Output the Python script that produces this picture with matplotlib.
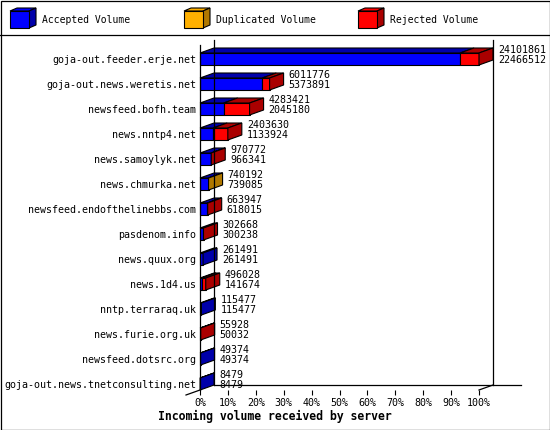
import matplotlib
matplotlib.use('Agg')
import matplotlib.pyplot as plt
from matplotlib.patches import Polygon, Rectangle
import numpy as np

servers = ['goja-out.feeder.erje.net', 'goja-out.news.weretis.net', 'newsfeed.bofh.team',
           'news.nntp4.net', 'news.samoylyk.net', 'news.chmurka.net',
           'newsfeed.endofthelinebbs.com', 'pasdenom.info', 'news.quux.org', 'news.1d4.us',
           'nntp.terraraq.uk', 'news.furie.org.uk', 'newsfeed.dotsrc.org',
           'goja-out.news.tnetconsulting.net']
offered = [24101861, 6011776, 4283421, 2403630, 970772, 740192, 663947,
           302668, 261491, 496028, 115477, 55928, 49374, 8479]
accepted = [22466512, 5373891, 2045180, 1133924, 966341, 739085, 618015,
            300238, 261491, 141674, 115477, 50032, 49374, 8479]
duplicated = [0, 0, 0, 0, 0, 1107, 0, 0, 0, 0, 0, 0, 0, 0]
legend_names = ['Accepted Volume', 'Duplicated Volume', 'Rejected Volume']

FRONT = ['#0000ff', '#ffb000', '#ff0000']
DARK = ['#0000aa', '#b07800', '#aa0000']
MONO = 'DejaVu Sans Mono'
FS = 7.2

W, H = 550, 430
fig = plt.figure(figsize=(W / 100, H / 100), dpi=100)

# background axes in pixel units: frame, legend, axis title
bg = fig.add_axes([0, 0, 1, 1])
bg.set_xlim(0, W)
bg.set_ylim(H, 0)
bg.axis('off')
bg.add_patch(Rectangle((0.5, 0.5), W - 1, H - 1, fill=False, lw=0.9, ec='black'))
bg.plot([0, W], [35, 35], color='black', lw=0.9)

for k, (name, fc, dc) in enumerate(zip(legend_names, FRONT, DARK)):
    x0 = [10, 184, 358][k]
    y0, bw, bh, d, e = 11, 19, 17, 7, 3
    bg.add_patch(Polygon([(x0, y0), (x0 + d, y0 - e), (x0 + bw + d, y0 - e), (x0 + bw, y0)],
                         fc=fc, ec='black', lw=0.8))
    bg.add_patch(Polygon([(x0 + bw, y0), (x0 + bw + d, y0 - e), (x0 + bw + d, y0 + bh - e),
                          (x0 + bw, y0 + bh)], fc=dc, ec='black', lw=0.8))
    bg.add_patch(Rectangle((x0, y0), bw, bh, fc=fc, ec='black', lw=0.8))
    bg.text(x0 + 32, 20, name, family=MONO, fontsize=7.0, va='center', ha='left')

bg.text(275, 416, 'Incoming volume received by server', family=MONO, fontsize=8.3,
        fontweight='bold', ha='center', va='center')

# main plot: x in percent of the biggest feed, y in rows
n = len(servers)
ax = fig.add_axes([200 / W, 40 / H, 279 / W, 345 / H])
ax.patch.set_visible(False)
PX = 100 / 279.0
PY = 1 / 25.0
dx, dy = 14 * PX, 5 * PY
hh = 6 * PY
top_y, floor_y = -0.56, 13.24
ax.set_xlim(0, 100)
ax.set_ylim(floor_y, top_y)
for s in ax.spines.values():
    s.set_visible(False)

off = np.array(offered, float)
acc = np.array(accepted, float)
dup = np.array(duplicated, float)
rej = off - acc - dup
scale = 100.0 / off.max()

# walls and floor
lk = dict(color='black', lw=0.9, clip_on=False)
ax.plot([0, 0], [top_y, floor_y], **lk)
ax.plot([dx, dx], [top_y - dy, floor_y - dy], **lk)
ax.plot([100 + dx, 100 + dx], [top_y - dy, floor_y - dy], **lk)
ax.plot([dx, 100 + dx + 28 * PX], [floor_y - dy, floor_y - dy], **lk)
ax.plot([-dx, 0], [floor_y + dy, floor_y], **lk)
ax.plot([100, 100 + dx], [floor_y, floor_y - dy], **lk)

for i in range(n - 1, -1, -1):
    parts = [acc[i], dup[i], rej[i]]
    x = 0.0
    last = 0
    t, b = i - hh, i + hh
    for k, v in enumerate(parts):
        if v <= 0:
            continue
        w = v * scale
        ax.add_patch(Rectangle((x, t), w, 2 * hh, fc=FRONT[k], ec='black', lw=0.8, clip_on=False))
        ax.add_patch(Polygon([(x, t), (x + dx, t - dy), (x + w + dx, t - dy), (x + w, t)],
                             fc=DARK[k], ec='black', lw=0.8, clip_on=False))
        x += w
        last = k
    ax.add_patch(Polygon([(x, t), (x + dx, t - dy), (x + dx, b - dy), (x, b)],
                         fc=DARK[last], ec='black', lw=0.8, clip_on=False))
    ax.text(x + dx + 5 * PX, i - 4 * PY, '%d\n%d' % (offered[i], accepted[i]),
            family=MONO, fontsize=FS, ha='left', va='center', linespacing=1.1)

ax.set_xticks(np.arange(0, 101, 10))
ax.set_xticklabels(['%d%%' % t for t in range(0, 101, 10)], family=MONO, fontsize=FS)
ax.tick_params(axis='x', length=3.6, width=0.8, pad=2.2, direction='out')
ax.set_yticks(np.arange(n))
ax.set_yticklabels(servers, family=MONO, fontsize=FS)
ax.tick_params(axis='y', length=0, pad=2.9)

fig.savefig('out.png', dpi=100)
